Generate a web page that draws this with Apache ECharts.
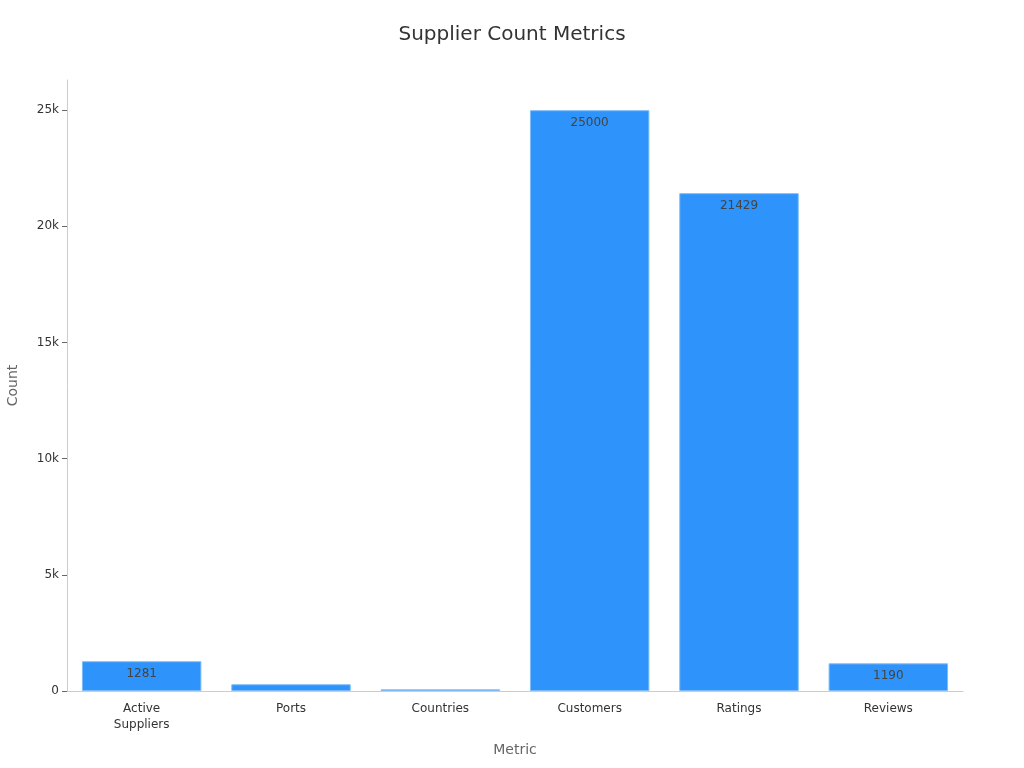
<!DOCTYPE html>
<html><head><meta charset="utf-8">
<script src="https://cdn.jsdelivr.net/npm/echarts@6/dist/echarts.min.js"></script>
<style>html,body{margin:0;padding:0;background:#fff}#c{width:1024px;height:768px}</style>
</head><body><div id="c"></div>
<script>
const categories = ["Active\nSuppliers", "Ports", "Countries", "Customers", "Ratings", "Reviews"];
const values = [1281, 290, 70, 25000, 21429, 1190];
const showLabel = [true, false, false, true, true, true];

const chart = echarts.init(document.getElementById('c'));
chart.setOption({
  animation: false,
  title: {text: "Supplier Count Metrics", left: 'center', top: 20,
    textStyle: {fontFamily: 'DejaVu Sans', fontSize: 20, fontWeight: 'normal', color: '#333'}},
  grid: {left: 67, right: 61, top: 80, bottom: 77, containLabel: false, outerBoundsMode: 'none'},
  xAxis: {type: 'category', data: categories, name: 'Metric', nameLocation: 'middle', nameGap: 52,
    nameTextStyle: {fontFamily: 'DejaVu Sans', fontSize: 14, color: '#666'},
    axisLine: {lineStyle: {color: '#ccc'}},
    axisTick: {alignWithLabel: true, lineStyle: {color: '#666'}},
    axisLabel: {fontFamily: 'DejaVu Sans', fontSize: 12, color: '#333', lineHeight: 16, margin: 10}},
  yAxis: {type: 'value', min: 0, max: 26300, interval: 5000, name: 'Count', nameLocation: 'middle', nameGap: 47,
    nameTextStyle: {fontFamily: 'DejaVu Sans', fontSize: 14, color: '#666'},
    axisLine: {show: true, lineStyle: {color: '#ccc'}},
    axisTick: {show: true, lineStyle: {color: '#666'}},
    splitLine: {show: false},
    axisLabel: {fontFamily: 'DejaVu Sans', fontSize: 12, color: '#333', showMaxLabel: false,
      formatter: v => v === 0 ? '0' : (v / 1000) + 'k'}},
  series: [{type: 'bar', barWidth: '80%',
    data: values.map((v, i) => ({value: v, label: {show: showLabel[i]}})),
    itemStyle: {color: '#2E93FA', borderColor: '#7fbcf7', borderWidth: 1},
    label: {position: 'insideTop', distance: 7, fontFamily: 'DejaVu Sans', fontSize: 12, color: '#444'}}]
});
</script></body></html>
